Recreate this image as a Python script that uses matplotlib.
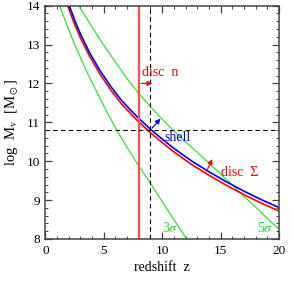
import matplotlib.pyplot as plt
from matplotlib.ticker import MultipleLocator

plt.rcParams['font.family'] = ['Liberation Serif', 'DejaVu Serif']
plt.rcParams['mathtext.fontset'] = 'stix'

# curves (redshift z, log M)
z_shell = [2.05, 2.5, 3.0, 3.8, 4.7, 5.6, 6.5, 7.5, 8.0, 9.0, 10.0, 11.0, 12.5, 14.0, 15.5, 17.0, 18.5, 20.0]
m_shell = [14.0, 13.63, 13.27, 12.78, 12.32, 11.92, 11.57, 11.25, 11.10, 10.82, 10.57, 10.33, 10.01, 9.73, 9.47, 9.23, 9.01, 8.81]

z_disc = [1.9, 2.5, 3.0, 3.8, 4.7, 5.6, 6.5, 7.5, 8.0, 9.0, 10.0, 11.0, 12.5, 14.0, 15.5, 17.0, 18.5, 20.0]
m_disc = [14.0, 13.52, 13.17, 12.69, 12.23, 11.83, 11.48, 11.16, 11.01, 10.73, 10.48, 10.24, 9.92, 9.64, 9.38, 9.14, 8.92, 8.72]

z_3sig = [1.2, 2.5, 3.5, 4.2, 5.0, 6.1, 7.0, 8.0, 9.0, 10.0, 11.0, 12.1]
m_3sig = [14.0, 13.0, 12.33, 11.9, 11.42, 10.8, 10.35, 9.88, 9.43, 8.96, 8.5, 8.0]

z_5sig = [2.85, 4.0, 5.0, 6.0, 7.0, 8.0, 9.0, 10.0, 11.0, 12.0, 13.0, 14.0, 15.0, 16.0, 17.0, 18.0, 19.0, 20.0]
m_5sig = [14.0, 13.45, 12.98, 12.55, 12.12, 11.74, 11.40, 11.08, 10.78, 10.50, 10.23, 9.95, 9.67, 9.39, 9.10, 8.82, 8.53, 8.25]

z_disc_n = 8.0
z_obs = 9.0
m_obs = 10.8

fig = plt.figure(figsize=(2.93, 2.82), dpi=100)
ax = fig.add_axes([0.155, 0.1525, 0.797, 0.8275])

ax.plot(z_3sig, m_3sig, color='#11ee11', lw=0.8)
ax.plot(z_5sig, m_5sig, color='#11ee11', lw=0.8)
ax.plot(z_disc, m_disc, color='red', lw=1.2)
ax.plot(z_shell, m_shell, color='blue', lw=1.2)

ax.axvline(z_disc_n, color='#ff4f4f', lw=1.6)
ax.axvline(z_obs, color='black', lw=0.8, ls=(0, (4, 3)))
ax.axhline(m_obs, color='black', lw=0.8, ls=(0, (4, 3)))

arrow = dict(arrowstyle='-|>', lw=0.9, mutation_scale=7)
ax.annotate('', xy=(9.4, 12.0), xytext=(8.0, 12.0), arrowprops=dict(arrow, color='red'))
ax.annotate('', xy=(10.0, 11.15), xytext=(9.0, 10.8), arrowprops=dict(arrow, color='blue'))
ax.annotate('', xy=(14.4, 10.12), xytext=(13.7, 9.68), arrowprops=dict(arrow, color='red'))

ax.text(8.3, 12.28, 'disc  n', color='red', fontsize=10, va='center')
ax.text(10.2, 10.62, 'shell', color='blue', fontsize=10, va='center')
ax.text(15.0, 9.70, 'disc  \u03a3', color='red', fontsize=10, va='center')
ax.text(10.0, 8.28, '3$\\sigma$', color='#11ee11', fontsize=10, va='center')
ax.text(18.1, 8.28, '5$\\sigma$', color='#11ee11', fontsize=10, va='center')

ax.set_xlim(0, 20)
ax.set_ylim(8, 14)
ax.xaxis.set_major_locator(MultipleLocator(5))
ax.xaxis.set_minor_locator(MultipleLocator(1))
ax.yaxis.set_major_locator(MultipleLocator(1))
ax.yaxis.set_minor_locator(MultipleLocator(0.2))
ax.tick_params(which='both', direction='in', top=True, right=True, color='#444444', labelsize=9.5, pad=4)
ax.tick_params(which='major', length=5, width=0.9)
ax.tick_params(which='minor', length=2.5, width=0.7)
for s in ax.spines.values():
    s.set_color('#444444')
    s.set_linewidth(1.1)

ax.set_xlabel('redshift  z', fontsize=10, labelpad=3)
ax.set_ylabel('log  M$_{\\rm v}$  [M$_\\odot$]', fontsize=10.5, labelpad=5)

fig.savefig('out.png', dpi=100)
